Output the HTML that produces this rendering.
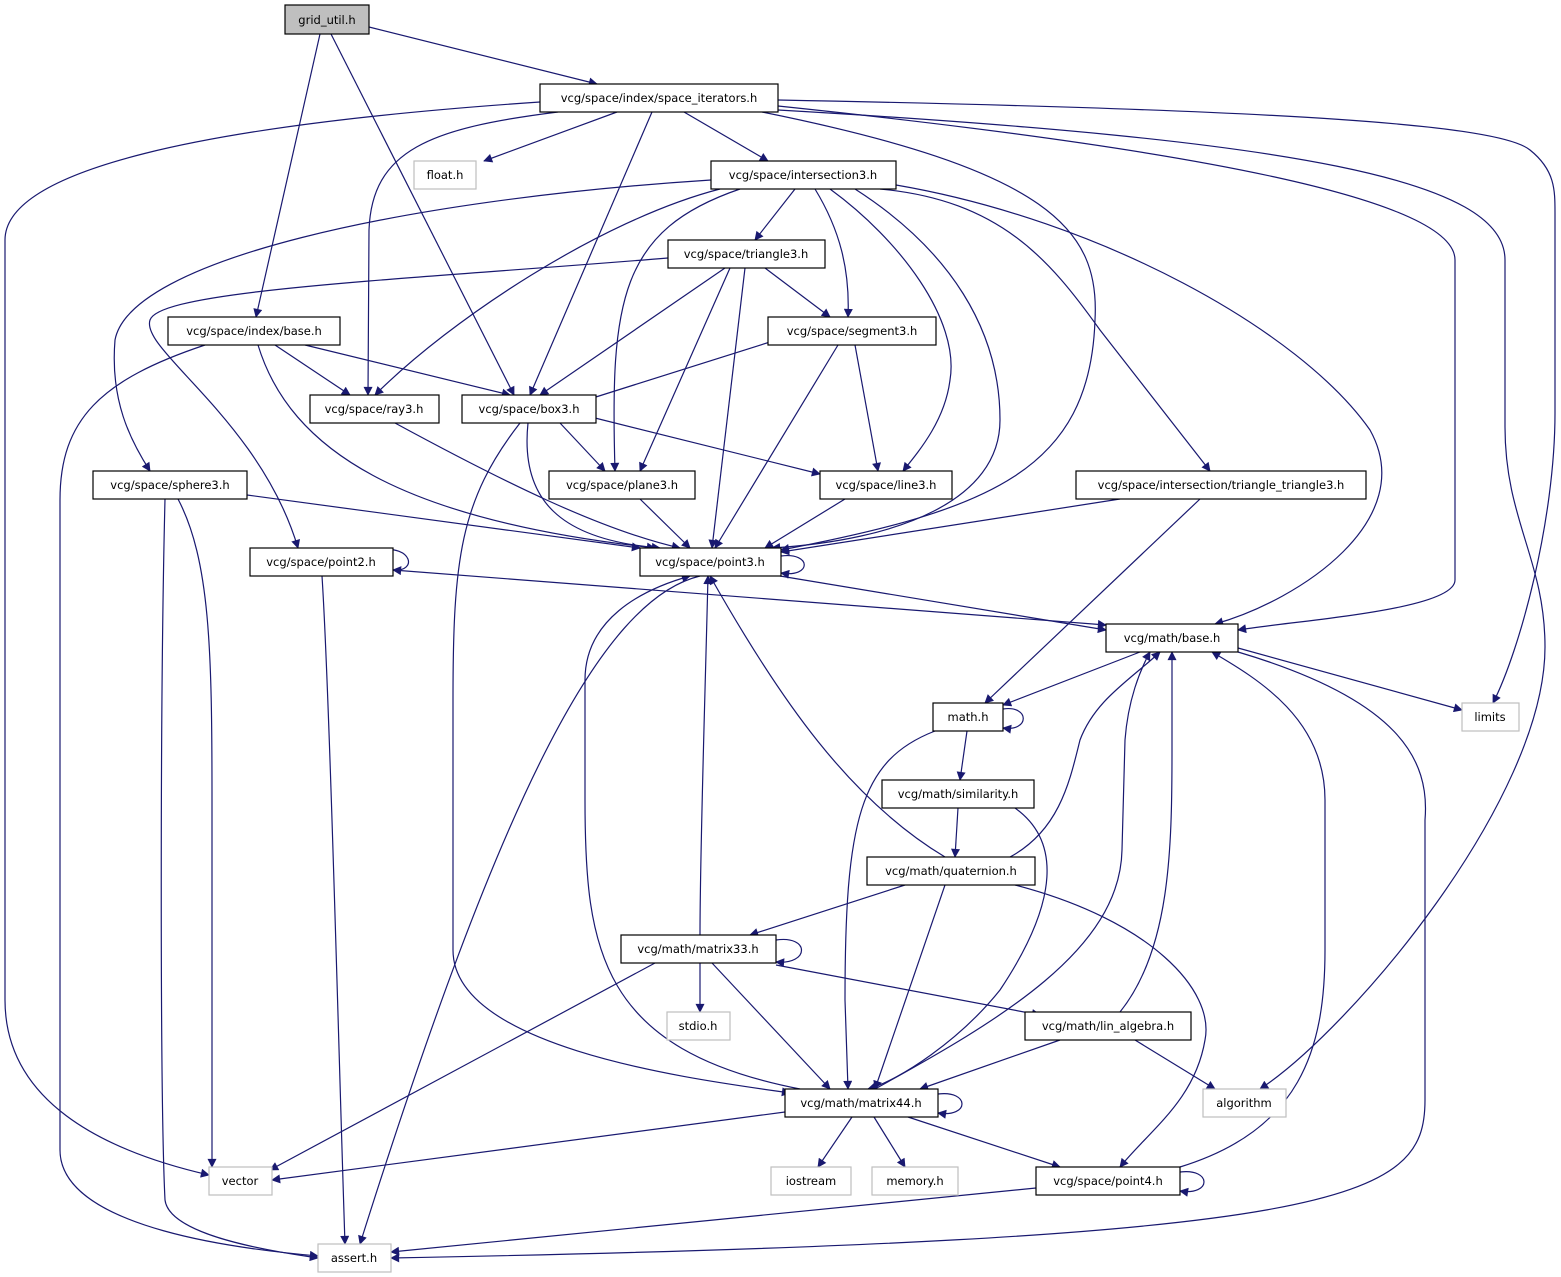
<!DOCTYPE html>
<html><head><meta charset="utf-8"><style>html,body{margin:0;padding:0;background:#fff}svg{display:block}text{font-family:"DejaVu Sans","Liberation Sans",sans-serif;font-size:11.5px;fill:#000}</style></head><body>
<svg width="1561" height="1277" viewBox="0 0 1561 1277" xmlns="http://www.w3.org/2000/svg">
<defs><marker id="a" viewBox="0 0 10 10" refX="9" refY="5" markerWidth="10" markerHeight="9" markerUnits="userSpaceOnUse" orient="auto"><path d="M0,0 L10,5 L0,10 z" fill="#191970"/></marker></defs>
<g fill="none" stroke="#191970" stroke-width="1.2" marker-end="url(#a)">
<path d="M369,27 L597,84"/>
<path d="M320,34 L256,317"/>
<path d="M331,34 L514,395"/>
<path d="M617,112 L484,161"/>
<path d="M684,112 L768,161"/>
<path d="M558,112 C430,128 372,150 369,230 L368,395"/>
<path d="M652,112 L530,395"/>
<path d="M762,112 C1050,170 1100,230 1095,320 C1090,470 990,510 781,550"/>
<path d="M540,102 C200,125 5,170 5,240 L5,1000 C5,1100 100,1150 209,1175"/>
<path d="M778,106 C1200,150 1455,200 1455,260 L1455,580 C1455,610 1300,620 1238,630"/>
<path d="M778,110 C1300,140 1505,180 1505,260 L1505,427 C1505,520 1545,560 1545,647 C1545,800 1350,1030 1260,1089"/>
<path d="M778,100 C1300,110 1500,125 1530,150 C1555,170 1555,190 1555,213 L1555,413 C1555,520 1520,650 1493,703"/>
<path d="M795,189 L755,240"/>
<path d="M815,189 C840,230 850,270 848,317"/>
<path d="M830,189 C900,240 960,320 950,380 C945,420 920,450 903,471"/>
<path d="M855,189 C950,250 1000,330 1000,420 C1000,500 900,540 772,548"/>
<path d="M740,189 C620,230 610,300 615,471"/>
<path d="M720,189 C600,220 450,320 375,395"/>
<path d="M711,180 C400,200 130,260 115,340 C110,400 130,440 150,471"/>
<path d="M896,185 C1100,220 1300,330 1370,430 C1420,520 1300,600 1215,624"/>
<path d="M880,189 C1000,200 1050,260 1100,330 L1210,471"/>
<path d="M765,268 L830,317"/>
<path d="M725,268 L540,395"/>
<path d="M730,268 L640,471"/>
<path d="M745,268 L712,548"/>
<path d="M668,258 C400,280 160,290 150,320 C140,350 260,420 298,548"/>
<path d="M275,345 L350,395"/>
<path d="M305,345 L510,395"/>
<path d="M258,345 C290,450 400,520 655,548"/>
<path d="M205,345 C100,380 60,420 60,500 L60,1150 C60,1230 250,1250 318,1256"/>
<path d="M770,342 L580,402"/>
<path d="M838,345 L715,548"/>
<path d="M855,345 L878,471"/>
<path d="M395,423 C500,480 600,530 680,548"/>
<path d="M560,423 L605,471"/>
<path d="M595,418 L820,474"/>
<path d="M528,423 C520,500 560,540 660,548"/>
<path d="M520,423 C460,500 453,560 453,700 L453,950 C453,1050 700,1080 790,1093"/>
<path d="M247,495 L640,548"/>
<path d="M178,499 C210,560 212,650 212,800 L212,1167"/>
<path d="M165,499 C160,700 160,1100 165,1200 C170,1240 300,1255 318,1258"/>
<path d="M640,499 L690,548"/>
<path d="M845,499 L765,548"/>
<path d="M1120,499 L781,552"/>
<path d="M1200,499 L985,703"/>
<path d="M781,556 C812,552 812,578 781,573"/>
<path d="M780,576 L1106,630"/>
<path d="M700,576 C600,600 500,800 360,1244"/>
<path d="M380,550 C412,545 418,572 393,570"/>
<path d="M393,570 L1106,625"/>
<path d="M322,576 C330,700 340,1100 345,1244"/>
<path d="M1238,648 L1462,710"/>
<path d="M1140,652 L1003,705"/>
<path d="M1238,652 C1400,700 1430,760 1425,820 L1425,1100 C1425,1200 1350,1240 391,1258"/>
<path d="M1003,709 C1030,705 1030,732 1003,728"/>
<path d="M967,731 L960,780"/>
<path d="M935,731 C860,760 845,820 845,1000 L848,1089"/>
<path d="M958,808 L955,857"/>
<path d="M1015,808 C1060,840 1060,900 1000,990 C960,1040 900,1080 868,1089"/>
<path d="M1010,857 C1060,830 1070,780 1080,740 C1095,700 1130,680 1160,652"/>
<path d="M945,857 C850,800 780,700 710,576"/>
<path d="M905,885 L750,935"/>
<path d="M945,885 L875,1089"/>
<path d="M1015,885 C1150,920 1215,990 1205,1040 C1195,1100 1150,1130 1120,1167"/>
<path d="M776,940 C810,935 810,965 776,962"/>
<path d="M700,935 C700,850 705,700 708,576"/>
<path d="M700,963 L700,1012"/>
<path d="M776,965 L1040,1015"/>
<path d="M712,963 L830,1089"/>
<path d="M655,963 L270,1170"/>
<path d="M1120,1012 C1170,950 1172,850 1172,750 L1172,652"/>
<path d="M1135,1040 L1215,1089"/>
<path d="M1060,1040 L920,1089"/>
<path d="M938,1094 C970,1090 970,1118 938,1113"/>
<path d="M800,1089 C600,1050 585,950 585,800 L585,680 C585,620 640,590 690,576"/>
<path d="M875,1089 C1000,1020 1120,950 1122,850 L1125,740 C1128,700 1140,670 1150,652"/>
<path d="M785,1112 L272,1180"/>
<path d="M852,1117 L818,1167"/>
<path d="M874,1117 L905,1167"/>
<path d="M908,1117 L1060,1167"/>
<path d="M1180,1167 C1300,1130 1325,1050 1325,950 L1325,800 C1325,720 1260,680 1212,652"/>
<path d="M1180,1172 C1212,1168 1212,1196 1180,1191"/>
<path d="M1036,1188 L391,1252"/>
</g>
<g stroke-width="1.2">
<rect x="285" y="5" width="84" height="29" fill="#bfbfbf" stroke="#000"/><text x="327" y="24" text-anchor="middle">grid_util.h</text>
<g fill="#fff" stroke="#000">
<rect x="540" y="84" width="238" height="28"/><rect x="711" y="161" width="185" height="28"/><rect x="668" y="240" width="157" height="28"/><rect x="168" y="317" width="172" height="28"/><rect x="768" y="317" width="168" height="28"/><rect x="310" y="395" width="129" height="28"/><rect x="462" y="395" width="134" height="28"/><rect x="93" y="471" width="154" height="28"/><rect x="549" y="471" width="146" height="28"/><rect x="820" y="471" width="132" height="28"/><rect x="1076" y="471" width="290" height="28"/><rect x="250" y="548" width="143" height="28"/><rect x="640" y="548" width="141" height="28"/><rect x="1106" y="624" width="132" height="28"/><rect x="933" y="703" width="70" height="28"/><rect x="882" y="780" width="152" height="28"/><rect x="867" y="857" width="168" height="28"/><rect x="621" y="935" width="155" height="28"/><rect x="1025" y="1012" width="166" height="28"/><rect x="785" y="1089" width="153" height="28"/><rect x="1036" y="1167" width="144" height="28"/>
</g>
<g fill="#fff" stroke="#bfbfbf">
<rect x="414" y="161" width="62" height="28"/><rect x="1462" y="703" width="57" height="28"/><rect x="667" y="1012" width="63" height="28"/><rect x="1203" y="1089" width="83" height="28"/><rect x="209" y="1167" width="63" height="28"/><rect x="771" y="1167" width="80" height="28"/><rect x="872" y="1167" width="86" height="28"/><rect x="318" y="1244" width="73" height="28"/>
</g>
</g>
<g text-anchor="middle">
<text x="659" y="102">vcg/space/index/space_iterators.h</text>
<text x="445" y="179">float.h</text>
<text x="803" y="179">vcg/space/intersection3.h</text>
<text x="746" y="258">vcg/space/triangle3.h</text>
<text x="254" y="335">vcg/space/index/base.h</text>
<text x="852" y="335">vcg/space/segment3.h</text>
<text x="374" y="413">vcg/space/ray3.h</text>
<text x="529" y="413">vcg/space/box3.h</text>
<text x="170" y="489">vcg/space/sphere3.h</text>
<text x="622" y="489">vcg/space/plane3.h</text>
<text x="886" y="489">vcg/space/line3.h</text>
<text x="1221" y="489">vcg/space/intersection/triangle_triangle3.h</text>
<text x="321" y="566">vcg/space/point2.h</text>
<text x="710" y="566">vcg/space/point3.h</text>
<text x="1172" y="642">vcg/math/base.h</text>
<text x="968" y="721">math.h</text>
<text x="1490" y="721">limits</text>
<text x="958" y="798">vcg/math/similarity.h</text>
<text x="951" y="875">vcg/math/quaternion.h</text>
<text x="698" y="953">vcg/math/matrix33.h</text>
<text x="698" y="1030">stdio.h</text>
<text x="1108" y="1030">vcg/math/lin_algebra.h</text>
<text x="1244" y="1107">algorithm</text>
<text x="861" y="1107">vcg/math/matrix44.h</text>
<text x="240" y="1185">vector</text>
<text x="811" y="1185">iostream</text>
<text x="915" y="1185">memory.h</text>
<text x="1108" y="1185">vcg/space/point4.h</text>
<text x="354" y="1262">assert.h</text>
</g>
</svg>
</body></html>
